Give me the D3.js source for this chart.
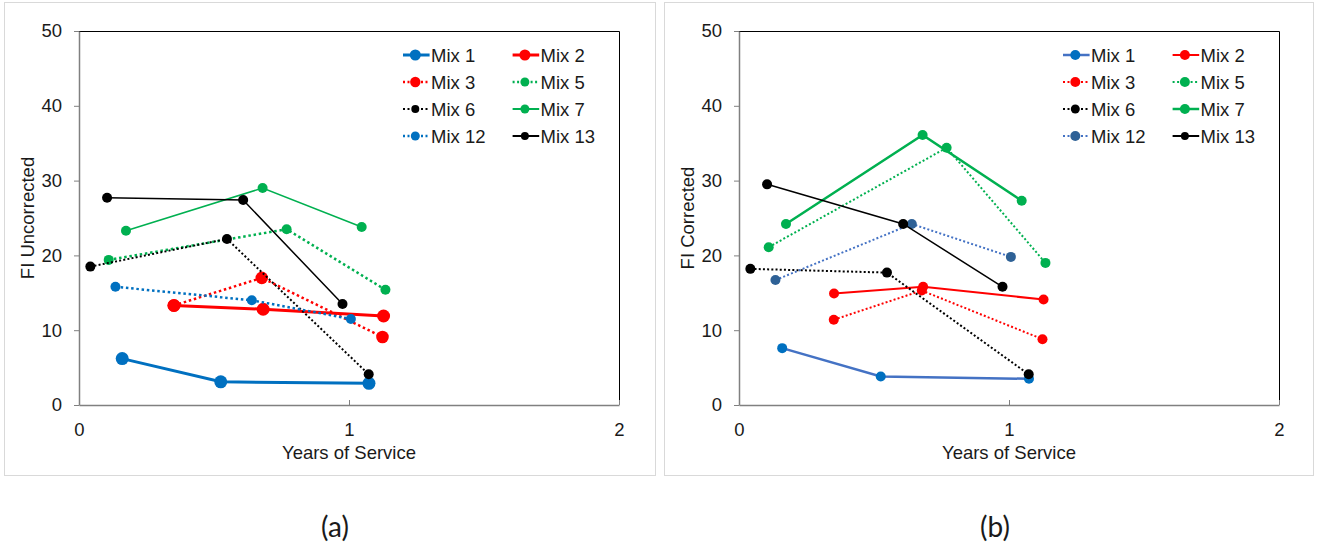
<!DOCTYPE html>
<html>
<head>
<meta charset="utf-8">
<script src="https://cdn.jsdelivr.net/npm/d3@7"></script>
<style>
  body { margin: 0; background: #fff; }
  svg { display: block; }
  text { font-family: "Liberation Sans", Arial, sans-serif; fill: #1a1a1a; }
</style>
</head>
<body>
<svg id="chart" width="1318" height="550"></svg>
<script>
// ---- Data ----
const mixNames = ["Mix 1", "Mix 2", "Mix 3", "Mix 5", "Mix 6", "Mix 7", "Mix 12", "Mix 13"];
const xMix1 = [0.16, 0.525, 1.074];
const xMix2 = [0.352, 0.682, 1.128];
const xMix3 = [0.351, 0.677, 1.124];
const xMix5 = [0.11, 0.769, 1.135];
const xMix6 = [0.042, 0.548, 1.073];
const xMix7 = [0.174, 0.68, 1.047];
const xMix12 = [0.135, 0.64, 1.007];
const xMix13 = [0.104, 0.608, 0.976];

// (a) FI Uncorrected
const uncMix1 = [6.2, 3.1, 2.9];
const uncMix2 = [13.3, 12.8, 11.9];
const uncMix3 = [13.3, 17.0, 9.1];
const uncMix5 = [19.4, 23.5, 15.4];
const uncMix6 = [18.5, 22.2, 4.1];
const uncMix7 = [23.3, 29.0, 23.8];
const uncMix12 = [15.8, 14.0, 11.5];
const uncMix13 = [27.7, 27.4, 13.5];

// (b) FI Corrected
const corMix1 = [7.6, 3.8, 3.5];
const corMix2 = [14.9, 15.8, 14.1];
const corMix3 = [11.4, 15.3, 8.8];
const corMix5 = [21.1, 34.4, 19.0];
const corMix6 = [18.2, 17.7, 4.1];
const corMix7 = [24.2, 36.1, 27.3];
const corMix12 = [16.7, 24.2, 19.8];
const corMix13 = [29.5, 24.2, 15.8];

const yTicks = [0, 10, 20, 30, 40, 50];
const xTicks = [0, 1, 2];
const xTitle = "Years of Service";
const panelTitles = ["FI Uncorrected", "FI Corrected"];
const panelCaptions = ["(a)", "(b)"];

// ---- Styles (not data) ----
const xs = [xMix1, xMix2, xMix3, xMix5, xMix6, xMix7, xMix12, xMix13];
const styleA = [
  {line: "#0070C0", mark: "#0070C0", w: 3, dot: false, r: 6.5, lr: 5.5},
  {line: "#FF0000", mark: "#FF0000", w: 3, dot: false, r: 6.5, lr: 5.5},
  {line: "#FF0000", mark: "#FF0000", w: 2.5, dot: true, r: 6.3, lr: 5.2},
  {line: "#00B050", mark: "#00B050", w: 2.5, dot: true, r: 5, lr: 4.5},
  {line: "#000000", mark: "#000000", w: 2, dot: true, r: 5, lr: 4},
  {line: "#00B050", mark: "#00B050", w: 1.5, dot: false, r: 5, lr: 4.5},
  {line: "#0070C0", mark: "#0070C0", w: 2.5, dot: true, r: 5, lr: 4.5},
  {line: "#000000", mark: "#000000", w: 1.5, dot: false, r: 5, lr: 4}
];
const styleB = [
  {line: "#4472C4", mark: "#0070C0", w: 2.5, dot: false, r: 5, lr: 5},
  {line: "#FF0000", mark: "#FF0000", w: 2, dot: false, r: 5, lr: 5},
  {line: "#FF0000", mark: "#FF0000", w: 2, dot: true, r: 5, lr: 5},
  {line: "#00B050", mark: "#00B050", w: 2, dot: true, r: 5, lr: 5},
  {line: "#000000", mark: "#000000", w: 2, dot: true, r: 5, lr: 4.5},
  {line: "#00B050", mark: "#00B050", w: 2.5, dot: false, r: 5, lr: 5},
  {line: "#4472C4", mark: "#2E6196", w: 2, dot: true, r: 5, lr: 5},
  {line: "#000000", mark: "#000000", w: 1.5, dot: false, r: 5, lr: 4}
];

const svg = d3.select("#chart");
svg.append("rect").attr("width", 1318).attr("height", 550).attr("fill", "#fff");

function drawPanel(ox, frameW, ys, styles, title, caption) {
  const g = svg.append("g").attr("transform", `translate(${ox},0)`);
  // outer frame
  g.append("rect").attr("x", 4.5).attr("y", 2.5).attr("width", frameW).attr("height", 473)
    .attr("fill", "none").attr("stroke", "#d9d9d9").attr("stroke-width", 1);

  const L = 79, R = 619, T = 31, B = 405;
  const x = d3.scaleLinear().domain([0, 2]).range([L, R]);
  const y = d3.scaleLinear().domain([0, 50]).range([B, T]);

  // top & right border
  g.append("path").attr("d", `M${L},${T}.5H${R}.5V${B}`)
    .attr("fill", "none").attr("stroke", "#000").attr("stroke-width", 1);

  const yAxis = g.append("g").attr("transform", `translate(${L},0)`)
    .call(d3.axisLeft(y).tickValues(yTicks).tickFormat(d3.format("d"))
      .tickSizeInner(5).tickSizeOuter(0).tickPadding(12));
  const xAxis = g.append("g").attr("transform", `translate(0,${B})`)
    .call(d3.axisBottom(x).tickValues(xTicks).tickFormat(d3.format("d"))
      .tickSizeInner(-5).tickSizeOuter(0).tickPadding(18));
  [yAxis, xAxis].forEach(a => {
    a.select(".domain").attr("stroke", "#808080").attr("stroke-width", 1.5);
    a.selectAll(".tick line").attr("stroke", "#808080");
    a.selectAll(".tick text").style("font-size", "18.5px").style("font-family", "'Liberation Sans', Arial, sans-serif").attr("fill", "#1a1a1a");
  });

  g.append("text").attr("x", (L + R) / 2).attr("y", 459).attr("text-anchor", "middle")
    .style("font-size", "18.5px").text(xTitle);
  g.append("text").attr("transform", `translate(34,${(T + B) / 2}) rotate(-90)`)
    .attr("text-anchor", "middle").style("font-size", "18.5px").text(title);
  g.append("text").attr("x", 335).attr("y", 537).attr("text-anchor", "middle")
    .style("font-family", "Lato, 'Open Sans', sans-serif").style("font-size", "28px").text(caption);

  const line = d3.line().x(d => x(d[0])).y(d => y(d[1]));
  mixNames.forEach((name, i) => {
    const s = styles[i];
    const pts = xs[i].map((xv, j) => [xv, ys[i][j]]);
    g.append("path").datum(pts).attr("d", line).attr("fill", "none")
      .attr("stroke", s.line).attr("stroke-width", s.w)
      .attr("stroke-dasharray", s.dot ? `${s.w},${s.w * 1.1}` : null);
    g.selectAll(null).data(pts).enter().append("circle")
      .attr("cx", d => x(d[0])).attr("cy", d => y(d[1])).attr("r", s.r).attr("fill", s.mark);
  });

  // legend
  const lg = g.append("g");
  mixNames.forEach((name, i) => {
    const s = styles[i];
    const col = i % 2, row = Math.floor(i / 2);
    const lx = L + 324 + col * 109.6;
    const ly = 55 + row * 27;
    lg.append("line").attr("x1", lx).attr("x2", lx + 26.6).attr("y1", ly).attr("y2", ly)
      .attr("stroke", s.line).attr("stroke-width", Math.max(s.w, 2))
      .attr("stroke-dasharray", s.dot ? "2,2.5" : null);
    lg.append("circle").attr("cx", lx + 12.3).attr("cy", ly).attr("r", s.lr).attr("fill", s.mark);
    lg.append("text").attr("x", lx + 28).attr("y", ly).attr("dy", "0.36em")
      .style("font-size", "18.5px").text(name);
  });
}

drawPanel(0, 651, [uncMix1, uncMix2, uncMix3, uncMix5, uncMix6, uncMix7, uncMix12, uncMix13], styleA, panelTitles[0], panelCaptions[0]);
drawPanel(660, 649, [corMix1, corMix2, corMix3, corMix5, corMix6, corMix7, corMix12, corMix13], styleB, panelTitles[1], panelCaptions[1]);
</script>
</body>
</html>
